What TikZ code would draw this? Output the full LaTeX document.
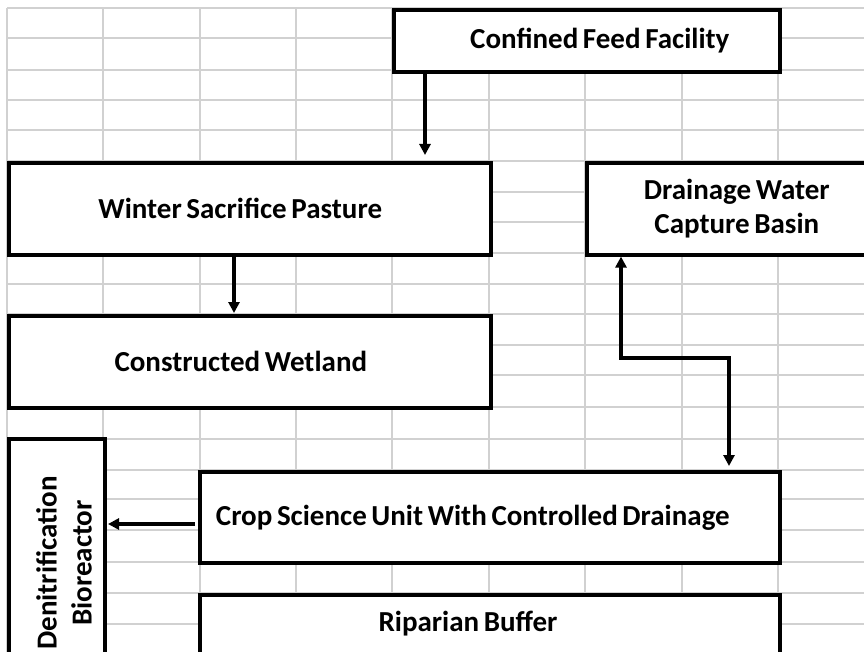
\documentclass[tikz,border=0pt]{standalone}
\usepackage{fontspec}
\setmainfont{Carlito}
\usetikzlibrary{arrows.meta,calc}
\newcommand{\boxfont}{\bfseries\fontsize{29}{34}\selectfont\spaceskip=0.16em plus 0.05em}
\tikzset{
  gridline/.style={draw=black!18, line width=1.5pt},
  box/.style={draw=black, fill=white, line width=3.6pt, inner sep=0pt, anchor=north west,
              font=\boxfont, align=center},
  arr/.style={draw=black, line width=3.2pt, -{Triangle[length=11pt,width=11pt]}},
  darr/.style={draw=black, line width=3.2pt, {Triangle[length=11pt,width=11pt]}-{Triangle[length=11pt,width=11pt]}}
}
\begin{document}
\begin{tikzpicture}[x=1pt,y=-1pt]
\useasboundingbox (0,0) rectangle (864,652);
\clip (0,0) rectangle (864,652);
\fill[white] (0,0) rectangle (864,652);
% spreadsheet grid
\foreach \gx in {7,103,200,296,392,489,585,682,778}
  \draw[gridline] (\gx,8) -- (\gx,660);
\foreach \gy in {8,38,70,100,130,161,192,222,253,284,314,345,375,407,439,470,499,530,562,593,624}
  \draw[gridline] (7,\gy) -- (870,\gy);
% boxes
\node[box, minimum width=386pt, minimum height=62pt] (cff) at (392,8)
  {\raisebox{5pt}{\hspace*{26pt}Confined Feed Facility}};
\node[box, minimum width=482pt, minimum height=92pt] (wsp) at (7,161)
  {Winter Sacrifice Pasture\hspace*{19pt}};
\node[box, minimum width=300pt, minimum height=92pt] (dwcb) at (585,161)
  {Drainage Water\\Capture Basin};
\node[box, minimum width=482pt, minimum height=92pt] (cw) at (7,314)
  {Constructed Wetland\hspace*{18pt}};
\node[box, minimum width=96pt, minimum height=240pt] (dbr) at (7,437) {};
\node[font=\bfseries\fontsize{29}{35}\selectfont, align=center, rotate=90, inner sep=0pt]
  (dbrt) at (64,563) {Denitrification\\Bioreactor};
\node[box, minimum width=580pt, minimum height=91pt] (csu) at (198,470)
  {Crop Science Unit With Controlled Drainage\hspace*{34pt}};
\node[box, minimum width=580pt, minimum height=92pt] (rb) at (198,593) {};
\node[font=\boxfont, inner sep=0pt] (rbt) at (468,624) {Riparian Buffer};
% connectors
\coordinate (a1) at (425,155);
\draw[arr] (cff.south -| a1) -- (a1);
\coordinate (a2) at (234,313);
\draw[arr] (wsp.south -| a2) -- (a2);
\coordinate (c1) at (621,358);
\coordinate (c2) at (729,358);
\coordinate (c3) at (729,466);
\draw[darr] (dwcb.south -| c1) -- (c1) -- (c2) -- (c3);
\coordinate (d1) at (195,524);
\coordinate (d2) at (108,524);
\draw[arr] (d1) -- (d2);
\end{tikzpicture}
\end{document}
